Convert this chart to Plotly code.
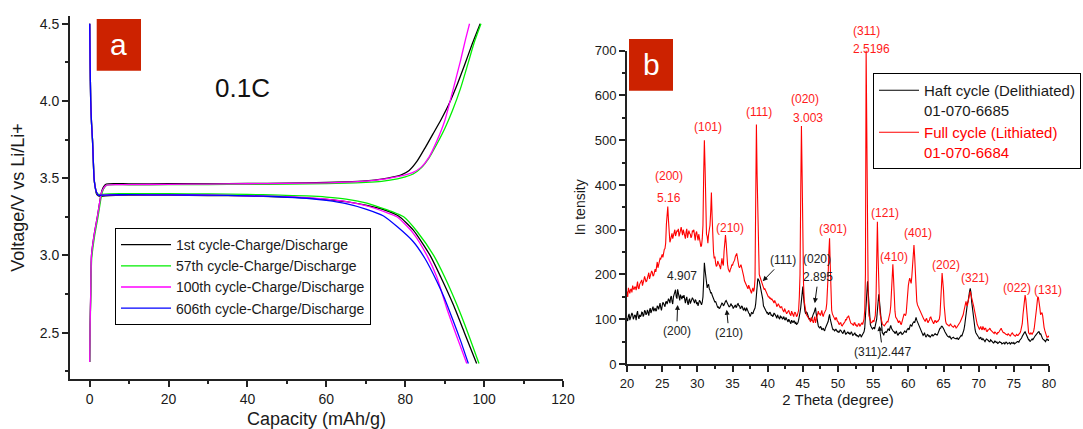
import plotly.graph_objects as go

FONT = "Arial, Liberation Sans, sans-serif"

# ---------------- Panel a: galvanostatic profiles at 0.1C ----------------
# 1st cycle
c1_chg_cap = [0, 0.1, 0.25, 0.45, 1.1, 2.0, 2.5, 2.9, 3.4, 4.2, 10, 20, 30, 40, 50, 60, 65, 70, 74, 77,
              79, 81, 83, 85, 87, 89, 91, 93, 95, 97, 99]
c1_chg_v = [2.31, 2.55, 2.75, 3.0, 3.13, 3.26, 3.34, 3.40, 3.44, 3.462, 3.463, 3.464, 3.465, 3.466, 3.468,
            3.472, 3.476, 3.483, 3.494, 3.508, 3.522, 3.55, 3.61, 3.695, 3.785, 3.875, 3.975, 4.095, 4.23, 4.37, 4.5]
c1_dis_cap = [0, 0.1, 0.25, 0.45, 0.7, 0.9, 1.1, 1.4, 1.7, 2.2, 3, 5, 10, 20, 30, 40, 48, 55, 60, 65,
              70, 75, 78.3, 82, 86.3, 89, 92.2, 95, 98.1]
c1_dis_v = [4.5, 4.25, 4.0, 3.86, 3.75, 3.62, 3.5, 3.44, 3.40, 3.385, 3.383, 3.388, 3.39, 3.39, 3.388,
            3.385, 3.38, 3.372, 3.362, 3.348, 3.325, 3.292, 3.255, 3.165, 3.0, 2.86, 2.68, 2.50, 2.3]

# 57th cycle
c57_chg_cap = [0, 0.1, 0.25, 0.5, 1.2, 2.1, 2.6, 3.0, 3.5, 4.3, 10, 20, 30, 40, 50, 60, 65, 70, 74, 78,
               80, 82, 84, 86, 88, 90, 92, 94, 96, 97.5, 99.2]
c57_chg_v = [2.31, 2.52, 2.72, 2.98, 3.12, 3.25, 3.33, 3.39, 3.43, 3.455, 3.457, 3.458, 3.459, 3.46, 3.462,
             3.465, 3.468, 3.473, 3.48, 3.495, 3.508, 3.527, 3.565, 3.63, 3.72, 3.82, 3.94, 4.08, 4.25, 4.38, 4.5]
c57_dis_cap = [0, 0.1, 0.25, 0.45, 0.7, 0.9, 1.1, 1.4, 1.7, 2.2, 3, 5, 10, 20, 30, 40, 48, 55, 60, 65,
               70, 73.7, 76.5, 79.6, 83, 87.2, 90, 93.1, 96, 98.7]
c57_dis_v = [4.5, 4.25, 4.0, 3.86, 3.75, 3.62, 3.5, 3.44, 3.41, 3.395, 3.395, 3.398, 3.40, 3.40, 3.398,
             3.395, 3.39, 3.385, 3.378, 3.365, 3.34, 3.31, 3.285, 3.25, 3.155, 3.0, 2.86, 2.68, 2.49, 2.3]

# 100th cycle
c100_chg_cap = [0, 0.1, 0.25, 0.45, 1.1, 2.0, 2.5, 2.9, 3.4, 4.2, 10, 20, 30, 40, 50, 60, 65, 70, 74, 77,
                80, 82, 84, 86, 88, 90, 92, 94, 95.3, 96.3]
c100_chg_v = [2.31, 2.55, 2.75, 3.0, 3.13, 3.26, 3.34, 3.40, 3.43, 3.455, 3.458, 3.46, 3.462, 3.464, 3.466,
              3.47, 3.474, 3.481, 3.492, 3.505, 3.522, 3.538, 3.57, 3.635, 3.74, 3.87, 4.06, 4.26, 4.40, 4.5]
c100_dis_cap = [0, 0.1, 0.25, 0.45, 0.7, 0.9, 1.1, 1.4, 1.7, 2.2, 3, 5, 10, 20, 30, 40, 48, 55, 60, 65,
                70, 75, 77.9, 82, 85.5, 88, 90.5, 93, 95.6]
c100_dis_v = [4.5, 4.25, 4.0, 3.86, 3.75, 3.62, 3.5, 3.44, 3.41, 3.39, 3.39, 3.392, 3.393, 3.392, 3.39,
              3.386, 3.382, 3.374, 3.364, 3.348, 3.322, 3.28, 3.25, 3.145, 3.0, 2.86, 2.66, 2.48, 2.3]

# 606th cycle
c606_dis_cap = [0, 0.1, 0.25, 0.45, 0.7, 0.9, 1.1, 1.4, 1.7, 2.2, 3, 5, 10, 20, 30, 40, 48, 55, 60, 65,
                70, 74.5, 78, 82, 85, 88, 90, 92.2, 94, 96]
c606_dis_v = [4.5, 4.25, 4.0, 3.86, 3.75, 3.62, 3.5, 3.44, 3.41, 3.39, 3.39, 3.392, 3.393, 3.392, 3.39,
              3.386, 3.38, 3.37, 3.356, 3.335, 3.3, 3.255, 3.185, 3.09, 2.98, 2.833, 2.72, 2.574, 2.45, 2.3]

cycle_names = ["1st cycle-Charge/Discharge", "57th cycle-Charge/Discharge",
               "100th cycle-Charge/Discharge", "606th cycle-Charge/Discharge"]
cycle_colors = ["#000000", "#00ee00", "#ff00ff", "#0000ff"]

# ---------------- Panel b: XRD patterns (step 0.1 deg, 20-80 deg) ----------------
half_cycle = [
    102, 96, 108, 112, 98, 104, 105, 114, 110, 100, 104, 110, 108, 98, 112, 118, 106, 101, 110, 106,
    108, 116, 115, 106, 110, 120, 118, 110, 112, 121, 116, 108, 120, 125, 114, 118, 122, 128, 118, 124,
    125, 118, 120, 130, 128, 122, 132, 136, 126, 120, 130, 138, 135, 128, 128, 138, 140, 134, 138, 146,
    142, 136, 148, 152, 140, 134, 150, 156, 160, 166, 150, 146, 167, 160, 150, 142, 155, 148, 145, 152,
    148, 154, 140, 136, 145, 150, 138, 132, 142, 146, 135, 140, 140, 148, 145, 138, 136, 144, 142, 134,
    138, 130, 135, 142, 140, 134, 132, 138, 150, 185, 226, 210, 195, 180, 170, 176, 178, 168, 165, 158,
    160, 154, 150, 146, 145, 138, 140, 134, 132, 126, 128, 124, 125, 130, 130, 136, 135, 130, 132, 138,
    140, 142, 138, 134, 132, 128, 128, 134, 135, 130, 130, 124, 126, 130, 132, 126, 128, 134, 135, 130,
    130, 124, 125, 130, 128, 122, 120, 126, 122, 118, 126, 120, 118, 114, 112, 106, 110, 115, 114, 112,
    118, 122, 125, 135, 150, 172, 191, 188, 185, 178, 170, 164, 160, 145, 130, 126, 122, 118, 118, 114,
    116, 110, 112, 116, 114, 108, 110, 106, 108, 114, 112, 106, 106, 102, 110, 106, 104, 100, 108, 104,
    105, 100, 102, 106, 100, 98, 104, 100, 98, 94, 100, 96, 95, 90, 98, 94, 92, 96, 96, 90,
    94, 88, 90, 92, 98, 104, 115, 126, 140, 160, 173, 150, 130, 118, 112, 116, 115, 108, 105, 100,
    102, 96, 98, 104, 105, 112, 115, 122, 126, 112, 100, 92, 85, 82, 80, 84, 82, 76, 78, 80,
    76, 74, 80, 84, 85, 90, 95, 104, 111, 100, 90, 82, 80, 76, 78, 74, 75, 78, 76, 72,
    74, 70, 72, 76, 75, 70, 70, 68, 73, 76, 71, 66, 68, 72, 72, 68, 70, 66, 68, 72,
    68, 64, 65, 70, 70, 64, 66, 62, 64, 60, 62, 66, 65, 60, 63, 66, 68, 72, 80, 110,
    150, 175, 185, 160, 130, 100, 88, 84, 82, 78, 80, 82, 78, 84, 90, 100, 120, 145, 156, 140,
    120, 90, 75, 70, 68, 64, 70, 72, 72, 70, 75, 78, 78, 74, 82, 86, 80, 76, 75, 72,
    72, 68, 70, 74, 68, 64, 66, 70, 68, 72, 70, 66, 67, 70, 70, 74, 72, 70, 76, 78,
    80, 76, 84, 88, 86, 84, 90, 94, 95, 92, 100, 104, 98, 94, 88, 84, 80, 76, 72, 70,
    68, 64, 66, 70, 64, 60, 62, 66, 65, 62, 63, 60, 62, 66, 66, 62, 64, 68, 68, 66,
    66, 64, 70, 74, 76, 80, 80, 84, 84, 82, 80, 76, 72, 68, 66, 64, 62, 60, 60, 62,
    60, 56, 58, 60, 60, 58, 57, 55, 56, 58, 58, 54, 57, 60, 60, 64, 62, 66, 70, 76,
    85, 100, 120, 130, 135, 140, 155, 162, 169, 160, 140, 125, 111, 96, 85, 76, 70, 66, 64, 62,
    60, 56, 58, 60, 55, 54, 57, 54, 54, 50, 53, 56, 55, 52, 52, 50, 50, 54, 52, 50,
    50, 47, 48, 52, 50, 48, 49, 46, 47, 50, 50, 48, 48, 45, 46, 48, 48, 44, 47, 49,
    48, 45, 46, 48, 48, 44, 45, 48, 47, 46, 48, 45, 46, 48, 48, 50, 50, 48, 52, 54,
    55, 58, 62, 66, 68, 70, 72, 68, 65, 60, 56, 54, 54, 50, 52, 56, 56, 54, 58, 60,
    62, 64, 66, 70, 70, 72, 72, 66, 68, 62, 58, 56, 55, 52, 52, 50, 54, 56, 55, 52,
    55,
]

full_cycle = [
    162, 150, 170, 165, 158, 166, 168, 160, 175, 170, 166, 172, 172, 165, 180, 184, 170, 168, 178, 182,
    182, 188, 175, 180, 188, 196, 192, 184, 185, 192, 196, 204, 190, 198, 200, 208, 205, 196, 198, 210,
    212, 206, 220, 228, 215, 222, 228, 236, 235, 240, 245, 238, 250, 256, 258, 270, 312, 345, 352, 320,
    285, 272, 278, 290, 292, 280, 288, 300, 300, 286, 290, 298, 296, 302, 285, 290, 298, 306, 292, 288,
    300, 294, 288, 280, 295, 302, 282, 290, 298, 292, 290, 282, 286, 298, 295, 300, 280, 276, 292, 296,
    285, 276, 290, 284, 272, 262, 265, 280, 310, 420, 500, 440, 320, 290, 285, 270, 290, 300, 310, 340,
    383, 330, 262, 250, 236, 240, 225, 218, 220, 230, 226, 218, 218, 212, 230, 236, 225, 220, 252, 275,
    288, 270, 240, 222, 212, 208, 205, 212, 215, 222, 220, 226, 228, 232, 240, 247, 247, 238, 225, 218,
    215, 218, 222, 216, 205, 200, 195, 186, 182, 178, 175, 168, 168, 176, 172, 164, 160, 158, 165, 170,
    162, 168, 190, 320, 535, 420, 320, 240, 200, 195, 190, 186, 180, 176, 172, 166, 168, 164, 160, 156,
    155, 150, 150, 146, 148, 144, 145, 140, 140, 136, 142, 138, 135, 128, 130, 134, 132, 126, 125, 128,
    128, 122, 120, 116, 124, 120, 118, 112, 115, 118, 120, 114, 112, 108, 118, 114, 110, 106, 114, 116,
    112, 106, 108, 112, 120, 150, 200, 380, 532, 420, 260, 180, 140, 125, 115, 110, 108, 104, 102, 100,
    98, 94, 104, 100, 95, 92, 100, 106, 92, 98, 108, 114, 118, 112, 112, 108, 115, 120, 110, 106,
    112, 116, 118, 122, 135, 160, 200, 250, 281, 220, 140, 120, 112, 108, 105, 100, 98, 104, 102, 96,
    95, 90, 88, 92, 92, 86, 85, 88, 90, 94, 95, 100, 98, 104, 105, 108, 100, 96, 92, 90,
    90, 88, 86, 92, 92, 86, 88, 84, 85, 90, 90, 84, 86, 90, 92, 88, 95, 100, 120, 200,
    702, 500, 250, 140, 108, 100, 95, 92, 92, 96, 98, 94, 100, 108, 140, 200, 318, 240, 160, 130,
    110, 100, 95, 90, 88, 86, 85, 88, 90, 92, 95, 94, 100, 104, 115, 130, 165, 200, 223, 190,
    140, 118, 105, 100, 100, 96, 92, 96, 95, 90, 88, 94, 100, 106, 112, 110, 108, 114, 140, 160,
    175, 185, 192, 186, 180, 196, 225, 250, 266, 240, 200, 165, 140, 132, 128, 124, 122, 118, 112, 110,
    108, 104, 100, 98, 95, 100, 102, 96, 92, 96, 98, 104, 105, 100, 95, 92, 90, 94, 98, 95,
    92, 96, 95, 98, 100, 110, 130, 170, 203, 190, 165, 130, 105, 96, 90, 88, 88, 86, 85, 88,
    90, 86, 84, 82, 82, 84, 86, 84, 80, 82, 84, 88, 90, 92, 95, 98, 102, 104, 110, 118,
    125, 135, 140, 132, 130, 140, 150, 158, 162, 155, 145, 138, 135, 128, 120, 110, 100, 94, 88, 85,
    82, 78, 80, 84, 78, 76, 84, 80, 76, 80, 80, 74, 72, 76, 76, 78, 80, 76, 74, 72,
    72, 70, 68, 72, 70, 66, 66, 70, 70, 72, 74, 78, 80, 76, 72, 70, 70, 68, 68, 66,
    66, 64, 68, 66, 64, 62, 66, 68, 70, 66, 65, 62, 62, 64, 66, 64, 64, 66, 68, 70,
    75, 80, 90, 110, 125, 140, 154, 145, 120, 95, 72, 70, 68, 66, 70, 68, 66, 70, 72, 80,
    90, 105, 120, 135, 150, 148, 140, 125, 110, 112, 115, 108, 90, 82, 75, 70, 62, 60, 60, 62,
    60,
]

# scan angles, one per recorded intensity
two_theta = [round(20 + 0.1 * i, 1) for i in range(len(full_cycle))]

# peak indexing of the lithiated phase: (label, 2theta, intensity)
red_labels = [
    ("(200)", 26.0, 420), ("5.16", 25.9, 372), ("(101)", 31.47, 529), ("(111)", 38.77, 562),
    ("(020)", 45.3, 592), ("3.003", 45.74, 550), ("(311)", 54.1, 765), ("2.5196", 54.73, 724),
    ("(210)", 34.65, 303), ("(301)", 49.33, 301), ("(121)", 56.7, 337), ("(410)", 57.96, 240),
    ("(401)", 61.42, 292), ("(202)", 65.36, 221), ("(321)", 69.5, 193), ("(022)", 75.4, 169),
    ("(131)", 79.9, 165),
]
# delithiated phase labels without arrows
black_labels = [("4.907", 27.77, 197), ("(020)", 46.97, 234)]
# delithiated phase labels with arrows: (label, text 2theta, text I, tip 2theta, tip I)
black_arrows = [
    ("(200)", 27.06, 74, 27.2, 132),
    ("(210)", 34.5, 70, 34.17, 121),
    ("(111)", 42.2, 232, 39.3, 185),
    ("2.895", 47.2, 194, 46.7, 136),
    ("(311)2.447", 56.35, 27, 55.87, 85),
]

I_TOP = 700  # top of the intensity axis

fig = go.Figure()

charge_caps = [c1_chg_cap, c57_chg_cap, c100_chg_cap, []]
charge_vs = [c1_chg_v, c57_chg_v, c100_chg_v, []]
dis_caps = [c1_dis_cap, c57_dis_cap, c100_dis_cap, c606_dis_cap]
dis_vs = [c1_dis_v, c57_dis_v, c100_dis_v, c606_dis_v]

for name, color, cc, cv, dc, dv in zip(cycle_names, cycle_colors, charge_caps, charge_vs, dis_caps, dis_vs):
    xs = (cc + [None] + dc) if cc else dc
    ys = (cv + [None] + dv) if cv else dv
    fig.add_trace(go.Scatter(x=xs, y=ys, mode="lines", name=name,
                             line=dict(color=color, width=1.3, shape="spline", smoothing=0.6),
                             xaxis="x", yaxis="y", legend="legend"))

fig.add_trace(go.Scatter(x=two_theta, y=half_cycle, mode="lines",
                         name="Haft cycle (Delithiated)<br>01-070-6685",
                         line=dict(color="#000000", width=1.1),
                         xaxis="x2", yaxis="y2", legend="legend2"))
fig.add_trace(go.Scatter(x=two_theta, y=full_cycle, mode="lines",
                         name="<span style='color:#ff0000'>Full cycle (Lithiated)<br>01-070-6684</span>",
                         line=dict(color="#ff0000", width=1.1),
                         xaxis="x2", yaxis="y2", legend="legend2"))

W, H = 1083, 429
AX = "#222222"

annotations = []
for text, tx, ty in red_labels:
    if ty <= I_TOP:
        annotations.append(dict(x=tx, y=ty, xref="x2", yref="y2", text=text, showarrow=False,
                                font=dict(size=12, color="#ff1a1a")))
    else:
        # labels above the axis top are placed in axis-domain units
        annotations.append(dict(x=tx, y=ty / I_TOP, xref="x2", yref="y2 domain", text=text,
                                showarrow=False, font=dict(size=12, color="#ff1a1a")))
for text, tx, ty in black_labels:
    annotations.append(dict(x=tx, y=ty, xref="x2", yref="y2", text=text, showarrow=False,
                            font=dict(size=12, color="#222222")))
for text, tx, ty, px, py in black_arrows:
    annotations.append(dict(x=px, y=py, xref="x2", yref="y2", ax=tx, ay=ty, axref="x2", ayref="y2",
                            text=text, showarrow=True, arrowhead=2, arrowsize=1, arrowwidth=1,
                            arrowcolor="#111111", standoff=0, startstandoff=1,
                            font=dict(size=12, color="#222222")))

annotations.append(dict(x=38.7, y=4.087, xref="x", yref="y", text="0.1C", showarrow=False,
                        font=dict(size=26, color="#111111")))
annotations.append(dict(x=118.9 / W, y=1 - 44.9 / H, xref="paper", yref="paper", text="a",
                        xanchor="center", yanchor="middle",
                        showarrow=False, font=dict(size=30, color="white")))
annotations.append(dict(x=651 / W, y=1 - 64.9 / H, xref="paper", yref="paper", text="b",
                        xanchor="center", yanchor="middle",
                        showarrow=False, font=dict(size=30, color="white")))

shapes = [
    dict(type="rect", xref="paper", yref="paper", x0=96.7 / W, x1=141 / W, y0=1 - 70.7 / H, y1=1 - 19 / H,
         fillcolor="#cc2200", line=dict(width=0), layer="above"),
    dict(type="rect", xref="paper", yref="paper", x0=629 / W, x1=673 / W, y0=1 - 90.7 / H, y1=1 - 39 / H,
         fillcolor="#cc2200", line=dict(width=0), layer="above"),
]


def axis_style(**kw):
    base = dict(showgrid=False, zeroline=False, showline=True, linecolor=AX, linewidth=2,
                ticks="outside", ticklen=6, tickwidth=1.5, tickcolor=AX, mirror=False,
                automargin=False)
    base.update(kw)
    return base


fig.update_layout(
    template="none",
    width=W, height=H, margin=dict(l=0, r=0, t=0, b=0, pad=0, autoexpand=False),
    paper_bgcolor="white", plot_bgcolor="white",
    font=dict(family=FONT, size=14, color="#1a1a1a"),
    xaxis=axis_style(domain=[70 / W, 563 / W], range=[-5, 120], tick0=0, dtick=20, anchor="y",
                     minor=dict(tick0=0, dtick=10, ticks="outside", ticklen=3, tickcolor=AX),
                     tickfont=dict(size=14),
                     title=dict(text="Capacity (mAh/g)", font=dict(size=18), standoff=9)),
    yaxis=axis_style(domain=[1 - 379 / H, 1 - 16 / H], range=[2.2, 4.55], tick0=2.5, dtick=0.5,
                     tickformat=".1f", anchor="x",
                     minor=dict(tick0=2.5, dtick=0.25, ticks="outside", ticklen=3, tickcolor=AX),
                     tickfont=dict(size=14),
                     title=dict(text="Voltage/V vs Li/Li+", font=dict(size=18), standoff=10)),
    xaxis2=axis_style(domain=[627 / W, 1049 / W], range=[20, 80], tick0=20, dtick=5, anchor="y2",
                      minor=dict(tick0=20, dtick=2.5, ticks="outside", ticklen=3, tickcolor=AX),
                      tickfont=dict(size=13),
                      title=dict(text="2 Theta (degree)", font=dict(size=15), standoff=4)),
    yaxis2=axis_style(domain=[1 - 364 / H, 1 - 50.7 / H], range=[0, I_TOP], tick0=0, dtick=100, anchor="x2",
                      minor=dict(tick0=0, dtick=50, ticks="outside", ticklen=3, tickcolor=AX),
                      tickfont=dict(size=13),
                      title=dict(text="In tensity", font=dict(size=14), standoff=6)),
    legend=dict(x=115 / W, y=1 - 228 / H, xanchor="left", yanchor="top", bgcolor="white",
                bordercolor="#000000", borderwidth=1, font=dict(size=14, color="#1a1a1a"),
                traceorder="normal", itemwidth=50),
    legend2=dict(x=873 / W, y=1 - 73 / H, xanchor="left", yanchor="top", bgcolor="white",
                 bordercolor="#000000", borderwidth=1, font=dict(size=15, color="#1a1a1a"),
                 traceorder="normal", valign="top", itemwidth=40),
    annotations=annotations,
    shapes=shapes,
)

fig.write_html("out.html",
               post_script="document.body.style.margin='0';document.body.style.overflow='hidden';")
